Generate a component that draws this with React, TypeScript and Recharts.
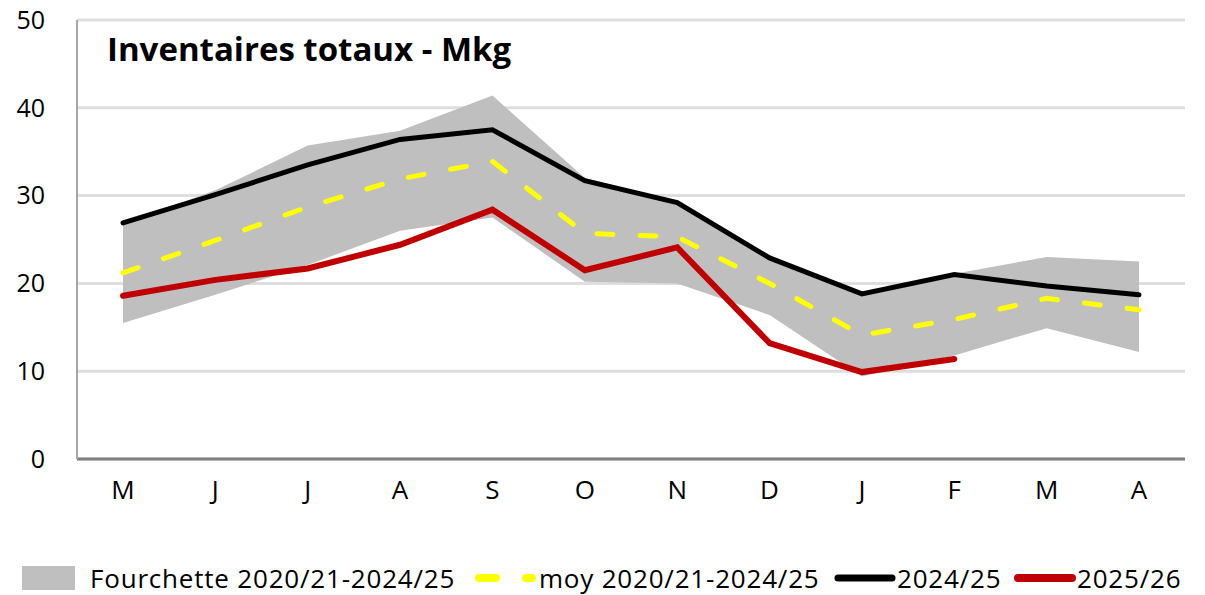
import { Area, CartesianGrid, ComposedChart, Line, XAxis, YAxis } from "recharts";

const months = ["M", "J", "J", "A", "S", "O", "N", "D", "J", "F", "M", "A"];
const rangeLow = [15.5, 18.7, 22.1, 26.0, 27.5, 20.2, 20.0, 16.4, 9.4, 11.8, 14.9, 12.2];
const rangeHigh = [26.8, 30.6, 35.7, 37.4, 41.4, 32.0, 29.3, 23.0, 18.8, 21.1, 23.0, 22.5];
const avg5y = [21.2, 24.9, 28.7, 31.9, 33.9, 25.7, 25.3, 20.0, 14.1, 15.9, 18.3, 17.0];
const season2425 = [26.9, 30.1, 33.5, 36.4, 37.5, 31.7, 29.2, 22.9, 18.8, 21.0, 19.7, 18.7];
const season2526 = [18.6, 20.4, 21.7, 24.4, 28.4, 21.5, 24.1, 13.2, 9.9, 11.4, null, null];
const yTicks = [0, 10, 20, 30, 40, 50];

const rows = months.map((m, i) => ({
  key: `${m}${i}`,
  month: m,
  range: [rangeLow[i], rangeHigh[i]],
  avg: avg5y[i],
  s2425: season2425[i],
  s2526: season2526[i],
}));

const FONT = "'Open Sans', 'Noto Sans', sans-serif";

const labelStyle = { fontSize: 26, color: "#000", letterSpacing: 0.8, lineHeight: "30px" } as const;

function LegendItems() {
  return (
    <div style={{ position: "absolute", left: 0, top: 563, width: 1205, height: 30, fontFamily: FONT }}>
      <div style={{ position: "absolute", left: 22, top: 3, width: 53, height: 24, background: "#bfbfbf" }} />
      <span style={{ ...labelStyle, position: "absolute", left: 90, top: 0 }}>Fourchette 2020/21-2024/25</span>

      <svg width={70} height={30} style={{ position: "absolute", left: 470, top: 0 }}>
        <line x1={9} y1={15} x2={62} y2={15} stroke="#ffff00" strokeWidth={8}
          strokeLinecap="round" strokeDasharray="17 30" />
      </svg>
      <span style={{ ...labelStyle, position: "absolute", left: 539, top: 0 }}>moy 2020/21-2024/25</span>

      <svg width={70} height={30} style={{ position: "absolute", left: 830, top: 0 }}>
        <line x1={8} y1={15} x2={62} y2={15} stroke="#000" strokeWidth={7} strokeLinecap="round" />
      </svg>
      <span style={{ ...labelStyle, position: "absolute", left: 897, top: 0 }}>2024/25</span>

      <svg width={70} height={30} style={{ position: "absolute", left: 1010, top: 0 }}>
        <line x1={8} y1={15} x2={62} y2={15} stroke="#c00000" strokeWidth={8} strokeLinecap="round" />
      </svg>
      <span style={{ ...labelStyle, position: "absolute", left: 1077, top: 0 }}>2025/26</span>
    </div>
  );
}

export default function App() {
  return (
    <div style={{ position: "absolute", left: 0, top: 0, width: 1205, height: 595, background: "#fff", fontFamily: FONT }}>
      <ComposedChart
        width={1205}
        height={595}
        data={rows}
        margin={{ top: 20, right: 20, bottom: 86, left: 0 }}
      >
        <XAxis
          dataKey="key"
          tickFormatter={(_, i) => months[i]}
          interval={0}
          tickLine={false}
          axisLine={{ stroke: "#808080", strokeWidth: 3 }}
          tick={{ fill: "#000", fontSize: 26, fontFamily: FONT }}
          tickMargin={16}
          padding={{ left: 46, right: 46 }}
          height={50}
        />
        <YAxis
          width={77}
          domain={[0, 50]}
          ticks={yTicks}
          tickLine={false}
          axisLine={{ stroke: "#a6a6a6", strokeWidth: 2 }}
          tick={{ fill: "#000", fontSize: 25, fontFamily: FONT }}
          tickMargin={26}
        />
        <Area
          dataKey="range"
          stroke="none"
          fill="#bfbfbf"
          fillOpacity={1}
          isAnimationActive={false}
        />
        <CartesianGrid vertical={false} stroke="rgba(0,0,0,0.13)" strokeWidth={3} />
        <Line
          dataKey="avg"
          stroke="#ffff00"
          strokeWidth={5}
          strokeDasharray="16 27"
          strokeLinecap="round"
          dot={false}
          isAnimationActive={false}
        />
        <Line
          dataKey="s2425"
          stroke="#000"
          strokeWidth={5}
          strokeLinecap="round"
          dot={false}
          isAnimationActive={false}
        />
        <Line
          dataKey="s2526"
          stroke="#c00000"
          strokeWidth={6}
          strokeLinecap="round"
          dot={false}
          isAnimationActive={false}
        />
      </ComposedChart>
      <div
        style={{
          position: "absolute",
          left: 107,
          top: 26,
          fontSize: 33,
          fontWeight: 700,
          letterSpacing: 0,
          color: "#000",
        }}
      >
        Inventaires totaux - Mkg
      </div>
      <LegendItems />
    </div>
  );
}
